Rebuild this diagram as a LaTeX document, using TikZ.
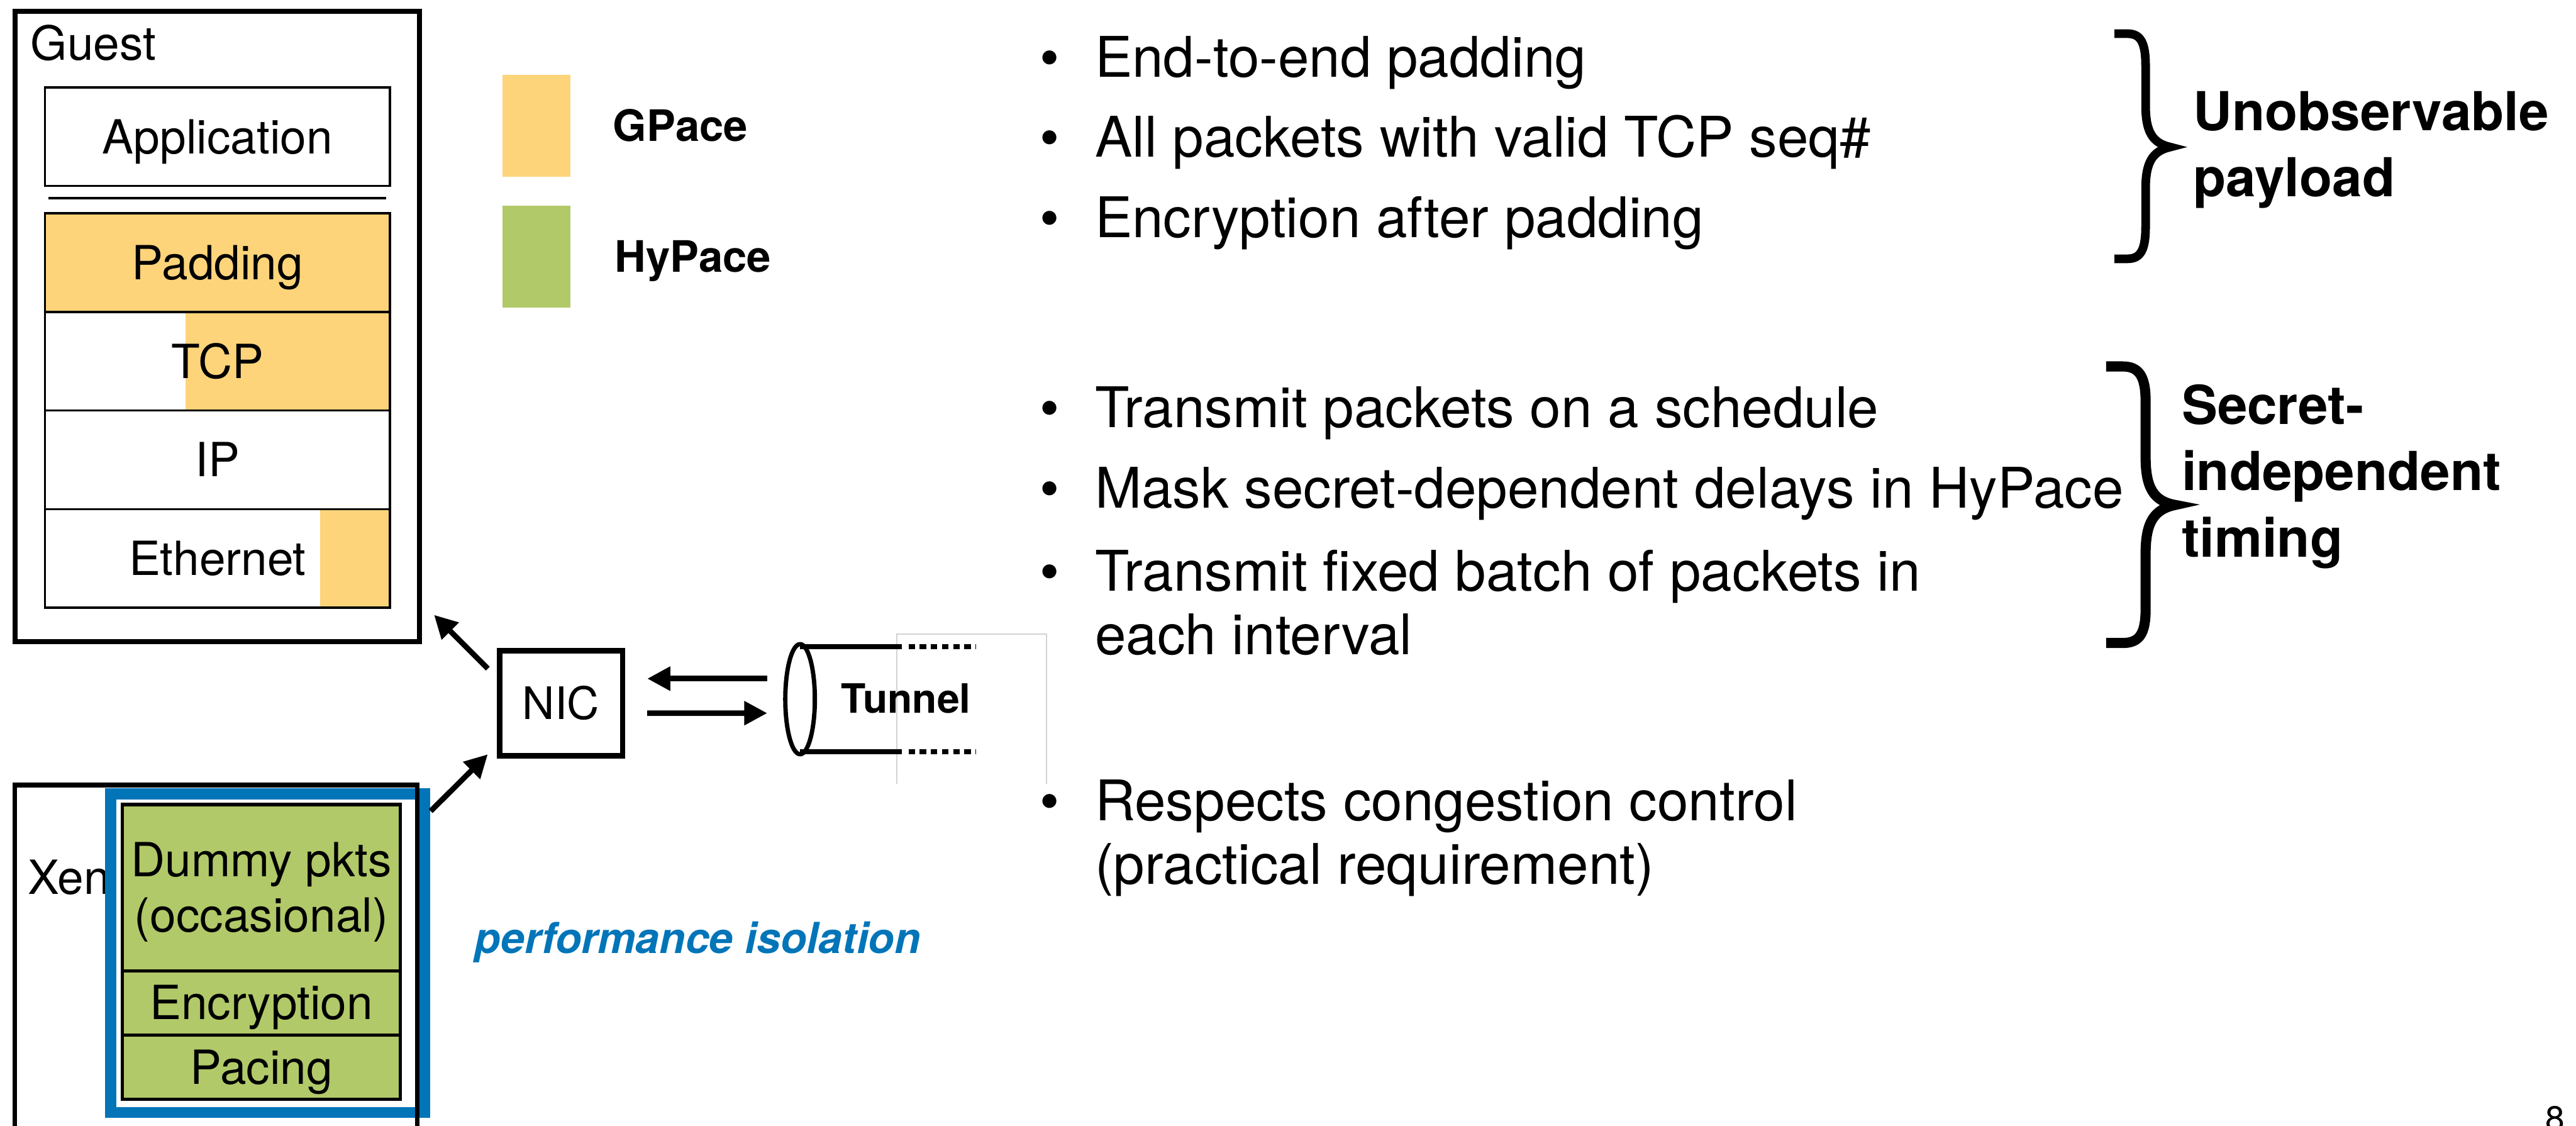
\documentclass[tikz,border=0pt]{standalone}
\usepackage{fontspec}
\setmainfont{TeX Gyre Heros}
\usetikzlibrary{positioning,calc,shapes.geometric,arrows.meta}

\definecolor{gpace}{HTML}{FED47A}
\definecolor{hypace}{HTML}{B1C968}
\definecolor{isoblue}{HTML}{0275B9}

\begin{document}
\begin{tikzpicture}[x=0.02cm, y=-0.02cm, node distance=1.2cm, outer sep=0pt,
    layer/.style={rectangle, draw, line width=0.75pt, minimum width=4.2cm, minimum height=1.2cm, inner sep=0pt, text height=11.7pt, text depth=0pt, font=\fontsize{16.3}{19.5}\selectfont},
    hylayer/.style={rectangle, draw, fill=hypace, line width=1.1pt, minimum width=3.388cm, minimum height=0.782cm, inner sep=0pt, text height=11.7pt, text depth=0pt, font=\fontsize{16.3}{19.1}\selectfont},
    frame/.style={rectangle, draw, line width=1.7pt, inner sep=0pt},
    keybox/.style={rectangle, minimum width=0.824cm, minimum height=1.236cm, inner sep=0pt},
    keytext/.style={inner sep=0pt, text height=10.8pt, text depth=0pt, font=\fontsize{15}{18}\selectfont\bfseries},
    plain/.style={anchor=base west, inner sep=0pt, font=\fontsize{16.3}{19.5}\selectfont},
    bulletitem/.style={anchor=base west, inner sep=0pt, align=left, font=\fontsize{19.4}{22}\selectfont},
    bulletmark/.style={anchor=base, inner sep=0pt, font=\fontsize{19.4}{22}\selectfont},
    claim/.style={anchor=base west, inner sep=0pt, align=left, font=\fontsize{18.6}{23}\selectfont\bfseries},
    curly/.style={line width=3pt, line join=miter},
    arr/.style={-{Triangle[length=0.28cm, width=0.28cm]}, line width=1.9pt},
    pipe/.style={line width=1.9pt}]

    \useasboundingbox (0,0) rectangle (1568,685);
    \clip (0,0) rectangle (1568,685);

    % guest stack
    \node (guest) [frame, minimum width=4.924cm, minimum height=7.668cm] at (132.3,198.7) {};
    \node (guestlbl) [plain] at (18.7,36.5) {Guest};
    \node (app) [layer] at (132.4,83.2) {Application};
    \draw[line width=0.9pt] ($(app.south west)+(2.2,7.5)$) -- ($(app.south east)+(-2.3,7.5)$);
    \node (padding) [layer, fill=gpace, node distance=1.533cm, below of=app] {Padding};
    \node (tcp) [layer, below of=padding, path picture={\fill[gpace] ([xshift=-0.392cm]path picture bounding box.south) rectangle (path picture bounding box.north east);}] {TCP};
    \node (ip) [layer, below of=tcp] {IP};
    \node (eth) [layer, below of=ip, path picture={\fill[gpace] ([xshift=1.252cm]path picture bounding box.south) rectangle (path picture bounding box.north east);}] {Ethernet};

    % legend
    \node (gkey) [keybox, fill=gpace] at (326.6,76.5) {};
    \node (hkey) [keybox, fill=hypace, node distance=1.595cm, below of=gkey] {};
    \node (gname) [keytext, right=0.52cm of gkey] {GPace};
    \node (hname) [keytext, right=0.54cm of hkey] {HyPace};

    % xen stack
    \node (xenlbl) [plain] at (17,544) {Xen};
    \node (iso) [rectangle, draw=isoblue, fill=white, line width=3.87pt, minimum width=3.824cm, minimum height=3.88cm] at (162.9,580) {};
    \node (xen) [frame, minimum width=4.9cm, minimum height=6.446cm] at (131.5,638.85) {};
    \node (dummy) [hylayer, minimum height=2.022cm, align=center, text height=30.56pt] at (159.1,540.15) {Dummy pkts\\(occasional)};
    \node (enc) [hylayer, node distance=1.402cm, below of=dummy] {Encryption};
    \node (pacing) [hylayer, node distance=0.782cm, below of=enc] {Pacing};
    \node (isolbl) [anchor=base west, inner sep=0pt, text=isoblue, font=\fontsize{14.8}{18}\selectfont\bfseries\itshape] at (289,580) {performance isolation};

    % nic and tunnel
    \node (nic) [frame, line width=1.9pt, minimum width=1.5cm, minimum height=1.28cm, text height=11.1pt, text depth=0pt, font=\fontsize{15.5}{18}\selectfont] at (341.5,428) {NIC};
    \draw[gray!35, line width=0.4pt] (546,477) -- (546,386) -- (637,386) -- (637,477);
    \node (tunnel) [ellipse, draw, line width=1.5pt, minimum width=0.36cm, minimum height=1.34cm, inner sep=0pt] at (487,425.5) {};
    \draw[pipe] ([yshift=-0.03cm]tunnel.north) -- ++(62,0);
    \draw[pipe, dash pattern=on 0.078cm off 0.058cm] ([yshift=-0.03cm]tunnel.north) ++(66,0) -- ++(41,0);
    \draw[pipe] ([yshift=0.03cm]tunnel.south) -- ++(62,0);
    \draw[pipe, dash pattern=on 0.078cm off 0.058cm] ([yshift=0.03cm]tunnel.south) ++(66,0) -- ++(41,0);
    \node (tunnellbl) [anchor=base west, inner sep=0pt, font=\fontsize{14}{17}\selectfont\bfseries] at (512,434) {Tunnel};

    \draw[arr, shorten >=0.3cm] ($(tunnel.west)+(-11,-12.5)$) -- ($(nic.east)+(0,-15)$);
    \draw[arr, shorten >=0.22cm] ($(nic.east)+(15,6)$) -- ($(tunnel.west)+(0,8.5)$);
    \draw[arr, shorten <=0.2cm, shorten >=0.25cm] ($(nic.west)+(0,-14)$) -- ($(guest.south east)+(0,-25)$);
    \draw[arr, shorten <=0.23cm, shorten >=0.2cm] ($(xen.north east)+(0,24)$) -- ($(nic.west)+(0,24)$);

    % properties (multi-line nodes sit on their last baseline)
    \node (d1) [bulletmark] at (638.8,46.8) {\textbullet};
    \node (p1) [bulletitem] at (666.5,46.8) {End-to-end padding};
    \node (d2) [bulletmark] at (638.8,95.6) {\textbullet};
    \node (p2) [bulletitem] at (666.5,95.6) {All packets with valid TCP seq\#};
    \node (d3) [bulletmark] at (638.8,144.4) {\textbullet};
    \node (p3) [bulletitem] at (666.5,144.4) {Encryption after padding};

    \node (d4) [bulletmark] at (638.8,260.3) {\textbullet};
    \node (t1) [bulletitem] at (666.5,260.3) {Transmit packets on a schedule};
    \node (d5) [bulletmark] at (638.8,309.2) {\textbullet};
    \node (t2) [bulletitem] at (666.5,309.2) {Mask secret-dependent delays in HyPace};
    \node (d6) [bulletmark] at (638.8,359.6) {\textbullet};
    \node (t3) [bulletitem] at (666.5,398.4) {Transmit fixed batch of packets in\\each interval};

    \node (d7) [bulletmark] at (638.8,499.5) {\textbullet};
    \node (c1) [bulletitem] at (666.5,538) {Respects congestion control\\(practical requirement)};

    % braces
    \draw[curly] (1287,20.5) -- (1295,20.5) .. controls (1303,20.5) and (1306,26) .. (1306,40)
        -- (1306,64) .. controls (1306,80) and (1310,87) .. (1321,89.5)
        .. controls (1310,92) and (1306,99) .. (1306,115) -- (1306,138)
        .. controls (1306,152) and (1303,157.5) .. (1295,157.5) -- (1287,157.5);
    \node (payload) [claim] at (1335,119.7) {Unobservable\\payload};
    \draw[curly, line width=3.5pt] (1282,223) -- (1292,223) .. controls (1302,223) and (1306,229) .. (1306,244)
        -- (1306,278) .. controls (1306,297) and (1311,305) .. (1324,307.3)
        .. controls (1311,310) and (1306,318) .. (1306,337) -- (1306,371)
        .. controls (1306,386) and (1302,391.3) .. (1292,391.3) -- (1282,391.3);
    \node (timing) [claim] at (1328,339) {Secret-\\independent\\timing};

    \node (pagenum) [anchor=base west, inner sep=0pt, font=\fontsize{12}{14}\selectfont] at (1549.5,688) {8};
\end{tikzpicture}
\end{document}
